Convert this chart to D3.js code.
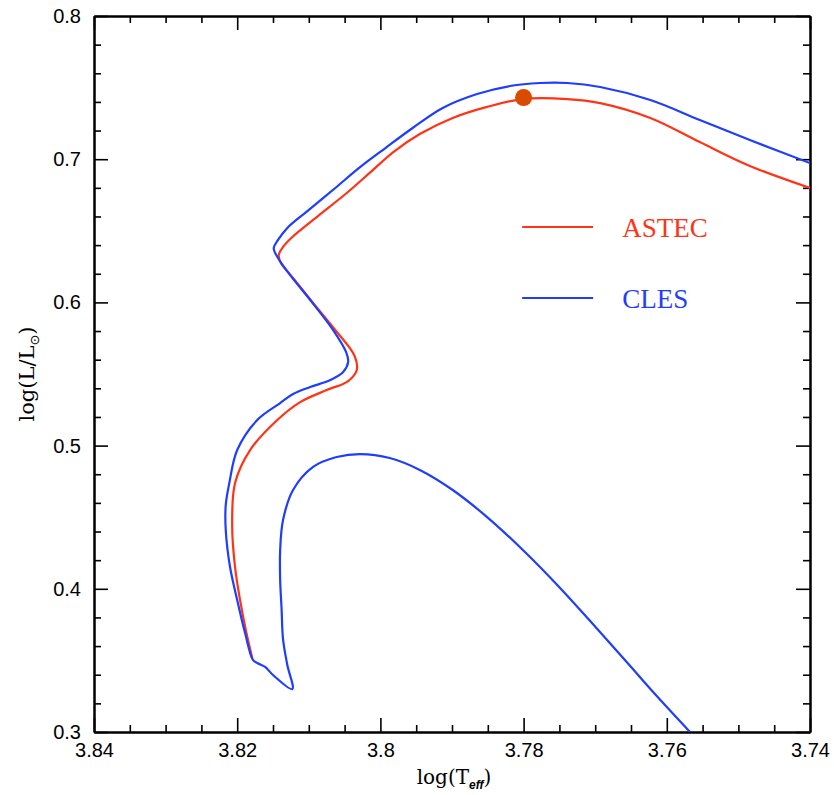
<!DOCTYPE html>
<html>
<head>
<meta charset="utf-8">
<script src="https://cdn.jsdelivr.net/npm/d3@7"></script>
<style>
  body { margin: 0; background: #fff; }
  .tick text { font-family: "Liberation Sans", Arial, sans-serif; font-size: 20px; fill: #000; }
  .tick line, .domain { stroke: #000; }
</style>
</head>
<body>
<div id="chart-area"></div>
<script>
// log(Teff), log(L/Lsun)
var clesTeff = [3.7565, 3.7614, 3.7656, 3.7707, 3.7753, 3.7801, 3.7851, 3.7899, 3.7945, 3.7987,
  3.8028, 3.8061, 3.8094, 3.8122, 3.8136, 3.8140, 3.8140, 3.8138, 3.8136, 3.8130,
  3.8123, 3.8150, 3.8161, 3.8172, 3.8178, 3.8189, 3.8200, 3.8210, 3.8216, 3.8216,
  3.8211, 3.8200, 3.8172, 3.8140, 3.8122, 3.8098, 3.8070, 3.8052,
  3.8045, 3.8048, 3.8066, 3.8098, 3.8126, 3.8143, 3.8149, 3.8143, 3.8130, 3.8102,
  3.8063, 3.8028, 3.7993, 3.7955, 3.7913, 3.7865, 3.7819, 3.7777, 3.7739, 3.7693,
  3.7623, 3.7554, 3.7484, 3.7400];
var clesLum = [0.2986, 0.3251, 0.3489, 0.3775, 0.4027, 0.4271, 0.4501, 0.4690, 0.4830, 0.4913,
  0.4941, 0.4920, 0.4851, 0.4690, 0.4480, 0.4271, 0.4061, 0.3859, 0.3649, 0.3468,
  0.3300, 0.3398, 0.3454, 0.3482, 0.3503, 0.3691, 0.3922, 0.4152, 0.4411, 0.4585,
  0.4739, 0.4969, 0.5179, 0.5297, 0.5360, 0.5409, 0.5458, 0.5514,
  0.5584, 0.5654, 0.5807, 0.6017, 0.6191, 0.6310, 0.6380, 0.6436, 0.6520, 0.6638,
  0.6799, 0.6946, 0.7078, 0.7218, 0.7358, 0.7455, 0.7511, 0.7532, 0.7532, 0.7504,
  0.7413, 0.7274, 0.7134, 0.6973];

var astecTeff = [3.8179, 3.8188, 3.8196, 3.8203, 3.8207, 3.8203, 3.8182, 3.8144,
  3.8112, 3.8075, 3.8045, 3.8033, 3.8036, 3.8063, 3.8094, 3.8122, 3.8139, 3.8142,
  3.8136, 3.8123, 3.8089, 3.8047, 3.8015, 3.7982, 3.7945, 3.7899, 3.7851, 3.7801,
  3.7739, 3.7693, 3.7623, 3.7554, 3.7484, 3.7400];
var astecLum = [0.3517, 0.3712, 0.3922, 0.4152, 0.4432, 0.4739, 0.4969, 0.5179,
  0.5304, 0.5388, 0.5451, 0.5528, 0.5626, 0.5807, 0.5996, 0.6170, 0.6275, 0.6331,
  0.6387, 0.6457, 0.6596, 0.6764, 0.6904, 0.7050, 0.7176, 0.7288, 0.7365, 0.7420,
  0.7420, 0.7392, 0.7288, 0.7120, 0.6953, 0.6799];

var markTeff = [3.78];
var markLum = [0.743];

var teffTicks = [3.84, 3.82, 3.80, 3.78, 3.76, 3.74];
var lumTicks = [0.3, 0.4, 0.5, 0.6, 0.7, 0.8];
var seriesNames = ["ASTEC", "CLES"];
var seriesColors = ["#ff3316", "#1f3dff"];

var margin = { left: 94, right: 24, top: 16, bottom: 63 };
var width = 834 - margin.left - margin.right;
var height = 795 - margin.top - margin.bottom;

var svg = d3
  .select("#chart-area")
  .append("svg")
  .attr("xmlns", "http://www.w3.org/2000/svg")
  .attr("width", 834)
  .attr("height", 795)
  .append("g")
  .attr("transform", "translate(" + margin.left + "," + margin.top + ")");

var x = d3.scaleLinear().domain([3.84, 3.74]).range([0, width]);
var y = d3.scaleLinear().domain([0.3, 0.8]).range([height, 0]);

var xMinor = d3.range(3.74, 3.8401, 0.005).filter(function (v) {
  return Math.abs(Math.round(v * 50) - v * 50) > 1e-6;
});
var yMinor = d3.range(0.3, 0.8001, 0.02).filter(function (v) {
  return Math.abs(Math.round(v * 10) - v * 10) > 1e-6;
});

function fmt(d) {
  return String(+d.toFixed(2));
}

// minor ticks, all four sides
svg.append("g").attr("transform", "translate(0," + height + ")")
  .call(d3.axisBottom(x).tickValues(xMinor).tickSize(-7).tickSizeOuter(0).tickFormat(""));
svg.append("g")
  .call(d3.axisTop(x).tickValues(xMinor).tickSize(-7).tickSizeOuter(0).tickFormat(""));
svg.append("g")
  .call(d3.axisLeft(y).tickValues(yMinor).tickSize(-7).tickSizeOuter(0).tickFormat(""));
svg.append("g").attr("transform", "translate(" + width + ",0)")
  .call(d3.axisRight(y).tickValues(yMinor).tickSize(-7).tickSizeOuter(0).tickFormat(""));

// major ticks
svg.append("g").attr("transform", "translate(0," + height + ")")
  .call(d3.axisBottom(x).tickValues(teffTicks).tickSize(-14).tickSizeOuter(0).tickPadding(11).tickFormat(fmt));
svg.append("g")
  .call(d3.axisTop(x).tickValues(teffTicks).tickSize(-14).tickSizeOuter(0).tickFormat(""));
svg.append("g")
  .call(d3.axisLeft(y).tickValues(lumTicks).tickSize(-14).tickSizeOuter(0).tickPadding(13).tickFormat(fmt));
svg.append("g").attr("transform", "translate(" + width + ",0)")
  .call(d3.axisRight(y).tickValues(lumTicks).tickSize(-14).tickSizeOuter(0).tickFormat(""));

svg.selectAll(".tick line").attr("stroke-width", 1.6);
svg.selectAll(".domain").attr("stroke-width", 2);

// axis titles
var xt = svg.append("text")
  .attr("x", width / 2 + 2)
  .attr("y", height + 52)
  .attr("text-anchor", "middle")
  .attr("font-family", "'DejaVu Serif', serif")
  .attr("font-size", "20px");
xt.append("tspan").text("log(T");
xt.append("tspan").attr("dy", 5).attr("font-size", "12px").attr("font-weight", "bold")
  .attr("font-style", "italic").attr("font-family", "'Liberation Sans', sans-serif").text("eff");
xt.append("tspan").attr("dy", -5).text(")");

var yt = svg.append("text")
  .attr("transform", "translate(-60," + (height / 2) + ") rotate(-90)")
  .attr("text-anchor", "middle")
  .attr("font-family", "'DejaVu Serif', serif")
  .attr("font-size", "21px");
yt.append("tspan").text("log(L/L");
yt.append("tspan").attr("dy", 5).attr("font-size", "13px").attr("font-family", "'DejaVu Sans', sans-serif").text("\u2299");
yt.append("tspan").attr("dy", -5).text(")");

// tracks
svg.append("clipPath").attr("id", "plot-clip")
  .append("rect").attr("width", width).attr("height", height);

var line = d3.line()
  .x(function (d) { return x(d[0]); })
  .y(function (d) { return y(d[1]); })
  .curve(d3.curveCatmullRom.alpha(0.5));

var tracks = [
  d3.zip(astecTeff, astecLum),
  d3.zip(clesTeff, clesLum)
];

tracks.forEach(function (pts, i) {
  svg.append("path")
    .datum(pts)
    .attr("clip-path", "url(#plot-clip)")
    .attr("fill", "none")
    .attr("stroke", seriesColors[i])
    .attr("stroke-width", 2.2)
    .attr("stroke-linejoin", "round")
    .attr("d", line);
});

svg.selectAll(".mark")
  .data(d3.zip(markTeff, markLum))
  .enter()
  .append("circle")
  .attr("cx", function (d) { return x(d[0]); })
  .attr("cy", function (d) { return y(d[1]); })
  .attr("r", 8.5)
  .attr("fill", "#d94c00");

// legend
var legend = svg.selectAll(".legend")
  .data(seriesNames)
  .enter()
  .append("g")
  .attr("transform", function (d, i) {
    return "translate(" + x(3.7802) + "," + y(0.6527 - i * 0.0496) + ")";
  });
legend.append("line")
  .attr("x1", 0).attr("x2", 71)
  .attr("stroke", function (d, i) { return seriesColors[i]; })
  .attr("stroke-width", 2);
legend.append("text")
  .attr("x", 100)
  .attr("y", 10)
  .attr("font-family", "'Liberation Serif', serif")
  .attr("font-size", "27px")
  .attr("fill", function (d, i) { return seriesColors[i]; })
  .text(function (d) { return d; });
</script>
</body>
</html>
